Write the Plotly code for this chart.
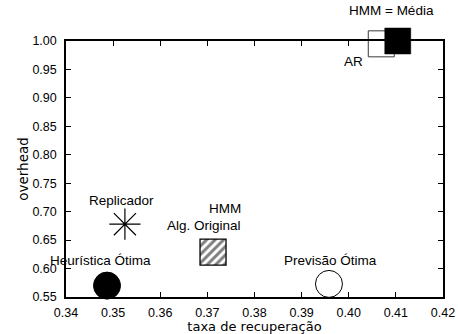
import plotly.graph_objects as go

# Data
methods = ["Heurística Ótima", "Replicador", "HMM Alg. Original", "Previsão Ótima", "AR", "HMM = Média"]
recovery = [0.3487, 0.3525, 0.3712, 0.3958, 0.4069, 0.4104]
overhead = [0.570, 0.678, 0.629, 0.573, 0.995, 1.000]

x_ticks = [0.34, 0.35, 0.36, 0.37, 0.38, 0.39, 0.40, 0.41, 0.42]
y_ticks = [0.55, 0.60, 0.65, 0.70, 0.75, 0.80, 0.85, 0.90, 0.95, 1.00]

TICKFONT = "Liberation Sans"
LABFONT = "Liberation Sans"
TITLEFONT = "DejaVu Sans"
MS = 26
X0, X1 = 0.34, 0.42
Y0, Y1 = 0.55, 1.00

W, H = 458, 334
ml, mr, mt, mb = 66, 15, 41, 37
px_x = (X1 - X0) / (W - ml - mr)
px_y = (Y1 - Y0) / (H - mt - mb)

fig = go.Figure()

# AR: open square marker
fig.add_trace(go.Scatter(
    x=[recovery[4]], y=[overhead[4]], mode="markers", name=methods[4],
    marker=dict(size=MS, symbol="square-open", color="#3a3a3a", line=dict(color="#3a3a3a", width=1)),
    cliponaxis=False, showlegend=False))

# HMM Alg. Original: hatched square drawn as a patterned bar sized to match the markers
fig.add_trace(go.Bar(
    x=[recovery[2]], y=[MS * px_y], base=[overhead[2] - MS * px_y / 2],
    width=MS * px_x, name=methods[2],
    marker=dict(color="white", line=dict(color="black", width=1.3),
                pattern=dict(shape="/", fgcolor="black", bgcolor="white", size=6, solidity=0.5)),
    showlegend=False, hoverinfo="skip"))

styles = {
    5: dict(symbol="square", color="black", line=dict(color="black", width=0.5)),
    0: dict(symbol="circle", color="black", line=dict(color="black", width=1)),
    1: dict(symbol="asterisk-open", color="black", line=dict(color="black", width=1.2)),
    3: dict(symbol="circle-open", color="black", line=dict(color="black", width=1)),
}
for i, st in styles.items():
    fig.add_trace(go.Scatter(
        x=[recovery[i]], y=[overhead[i]], mode="markers",
        marker=dict(size=MS + 1 if i in (0, 3) else MS, **st), cliponaxis=False,
        showlegend=False, name=methods[i]))

labels = [
    ("HMM = Média", 0.4090, 1.0528, "center"),
    ("AR", 0.4011, 0.9648, "center"),
    ("Replicador", 0.3517, 0.719, "center"),
    ("HMM", 0.3776, 0.705, "right"),
    ("Alg. Original", 0.3776, 0.675, "right"),
    ("Heurística Ótima", 0.3474, 0.615, "center"),
    ("Previsão Ótima", 0.3961, 0.615, "center"),
]
for t, x, y, xa in labels:
    fig.add_annotation(x=x, y=(y - Y0) / (Y1 - Y0), yref="paper", text=t, showarrow=False,
                       xanchor=xa, yanchor="middle",
                       font=dict(family=LABFONT, size=13.5, color="black"))

axis_common = dict(showgrid=False, zeroline=False, showline=True, linecolor="black", linewidth=1.5,
                   mirror="allticks", ticks="inside", ticklen=5, tickwidth=1, tickcolor="black",
                   automargin=False,
                   tickfont=dict(family=TICKFONT, size=12.5, color="black"))
fig.update_xaxes(range=[X0, X1], tickvals=x_ticks, ticktext=[f"{v:.2f}" for v in x_ticks],
                 ticklabelstandoff=3,
                 title=dict(text="taxa de recuperação", font=dict(family=TITLEFONT, size=13, color="black"), standoff=4),
                 **axis_common)
fig.update_yaxes(range=[Y0, Y1], tickvals=y_ticks, ticktext=[f"{v:.2f}" for v in y_ticks],
                 ticklabelstandoff=5,
                 title=dict(text="overhead", font=dict(family=TITLEFONT, size=13.5, color="black"), standoff=1),
                 **axis_common)
fig.update_layout(width=W, height=H, margin=dict(l=ml, r=mr, t=mt, b=mb),
                  plot_bgcolor="white", paper_bgcolor="white", showlegend=False, barmode="overlay",
                  font=dict(family=TICKFONT, size=12.5, color="black"))
fig.write_html("out.html", config={"displayModeBar": False},
               post_script="document.body.style.margin='0';")
